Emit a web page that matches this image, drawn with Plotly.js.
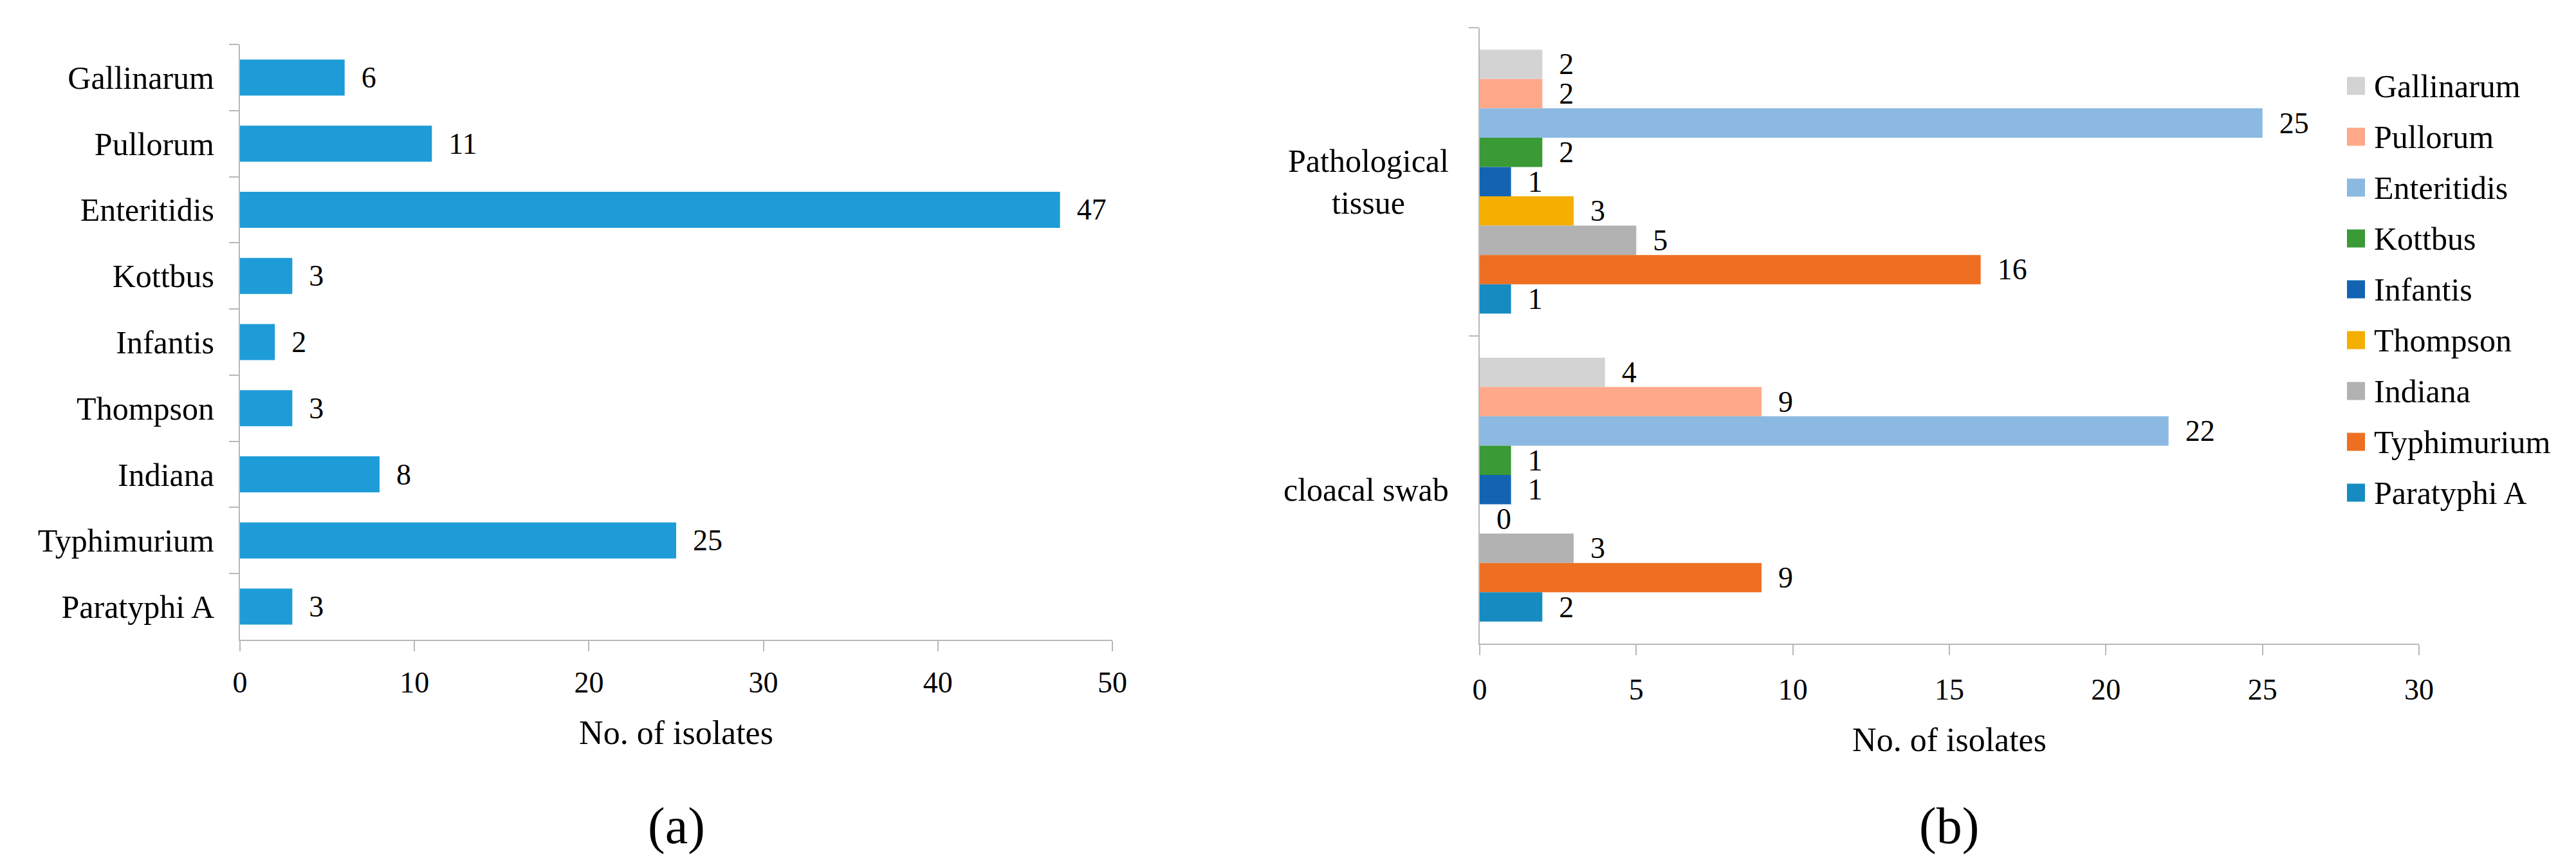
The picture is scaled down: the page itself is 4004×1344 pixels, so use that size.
<!DOCTYPE html>
<html>
<head>
<meta charset="utf-8">
<script src="https://cdn.plot.ly/plotly-3.0.1.min.js"></script>
<style>
html,body{margin:0;padding:0;background:#fff;}
#chart{width:4004px;height:1344px;}
</style>
</head>
<body>
<div id="chart"></div>
<script>
// ---- data ----
const serovars = ['Gallinarum','Pullorum','Enteritidis','Kottbus','Infantis','Thompson','Indiana','Typhimurium','Paratyphi A'];
const totalIsolates = [6, 11, 47, 3, 2, 3, 8, 25, 3];
const sources = ['Pathological tissue','cloacal swab'];
const sourceLabels = ['Pathological<br>tissue','cloacal swab'];
const gallinarum  = [2, 4];
const pullorum    = [2, 9];
const enteritidis = [25, 22];
const kottbus     = [2, 1];
const infantis    = [1, 1];
const thompson    = [3, 0];
const indiana     = [5, 3];
const typhimurium = [16, 9];
const paratyphiA  = [1, 2];
const xTicksA = [0, 10, 20, 30, 40, 50];
const xTicksB = [0, 5, 10, 15, 20, 25, 30];
const axisTitle = 'No. of isolates';
const panelLabels = ['(a)', '(b)'];

// ---- styles ----
const FONT = 'Liberation Serif, Times New Roman, DejaVu Serif, serif';
const barColorA = '#1e9cd8';
const serovarColors = ['#d3d3d3','#ffa98a','#8bb9e1','#3a9a36','#1264b2','#f4af00','#b2b2b2','#ee6f22','#168bc1'];
const bySource = [gallinarum, pullorum, enteritidis, kottbus, infantis, thompson, indiana, typhimurium, paratyphiA];
const NB = '\u00a0\u00a0';

const traces = [];
traces.push({
  type: 'bar', orientation: 'h',
  x: totalIsolates, y: serovars,
  xaxis: 'x', yaxis: 'y',
  width: 0.545,
  marker: {color: barColorA},
  text: totalIsolates.map(v => NB + v),
  textposition: 'outside', cliponaxis: false, constraintext: 'none',
  textfont: {family: FONT, size: 46, color: '#000'},
  showlegend: false, hoverinfo: 'skip'
});
serovars.forEach((name, i) => {
  traces.push({
    type: 'bar', orientation: 'h', name: name,
    x: bySource[i], y: sources,
    xaxis: 'x2', yaxis: 'y2',
    marker: {color: serovarColors[i]},
    text: bySource[i].map(v => NB + v),
    textposition: 'outside', cliponaxis: false, constraintext: 'none',
    textfont: {family: FONT, size: 46, color: '#000'},
    legendgroup: 'g' + i,
    hoverinfo: 'skip'
  });
});

const axisLine = {showline: true, linecolor: '#b8b8b8', linewidth: 2, ticks: 'outside', tickcolor: '#b8b8b8', tickwidth: 2, ticklen: 16, showgrid: false, zeroline: false};

const layout = {
  width: 4004, height: 1344,
  margin: {l: 0, r: 0, t: 0, b: 0},
  paper_bgcolor: '#fff', plot_bgcolor: '#fff',
  font: {family: FONT, color: '#000'},
  barmode: 'group',
  bargap: 0.143, bargroupgap: 0,
  showlegend: true,
  xaxis: Object.assign({}, axisLine, {
    domain: [373/4004, 1729/4004], anchor: 'y', range: [0, 50],
    tickvals: xTicksA, tickfont: {size: 46}, ticklabelstandoff: 9,
    title: {text: axisTitle, font: {size: 52}, standoff: 34}
  }),
  yaxis: Object.assign({}, axisLine, {
    domain: [1 - 994/1344, 1 - 69/1344], anchor: 'x',
    type: 'category', autorange: 'reversed', tickson: 'boundaries', ticklen: 15,
    tickfont: {size: 50}, ticklabelstandoff: 28
  }),
  xaxis2: Object.assign({}, axisLine, {
    domain: [2300/4004, 3760/4004], anchor: 'y2', range: [0, 30],
    tickvals: xTicksB, tickfont: {size: 46}, ticklabelstandoff: 14,
    title: {text: axisTitle, font: {size: 52}, standoff: 34}
  }),
  yaxis2: Object.assign({}, axisLine, {
    domain: [1 - 1000/1344, 1 - 43/1344], anchor: 'x2',
    type: 'category', autorange: 'reversed', tickson: 'boundaries', ticklen: 15,
    showticklabels: false
  }),
  legend: {
    x: 3634/4004, xanchor: 'left', y: 1 - 92/1344, yanchor: 'top',
    font: {family: FONT, size: 50, color: '#000'},
    itemwidth: 46, traceorder: 'grouped', tracegroupgap: 11,
    bgcolor: 'rgba(0,0,0,0)'
  },
  annotations: [
    {text: panelLabels[0], xref: 'paper', yref: 'paper', x: 1051/4004, y: 1 - 1283/1344, xanchor: 'center', yanchor: 'middle', showarrow: false, font: {size: 80}},
    {text: panelLabels[1], xref: 'paper', yref: 'paper', x: 3029/4004, y: 1 - 1283/1344, xanchor: 'center', yanchor: 'middle', showarrow: false, font: {size: 80}}
  ].concat(sources.map((s, i) => ({
    text: sourceLabels[i], xref: 'x2 domain', yref: 'y2', x: 0, y: s,
    xanchor: 'right', yanchor: 'middle', xshift: -46, align: 'center',
    showarrow: false, font: {size: 50}
  })))
};

Plotly.newPlot('chart', traces, layout, {staticPlot: true, displayModeBar: false}).then(gd => {
  // replace the small default legend swatches with 28px squares, 14px before the text
  const ns = 'http://www.w3.org/2000/svg';
  gd.querySelectorAll('.legend .traces').forEach(item => {
    const txt = item.querySelector('text.legendtext');
    if (!txt) return;
    const idx = serovars.indexOf(txt.textContent.trim());
    if (idx < 0) return;
    item.querySelectorAll('.legendpoints path').forEach(p => { p.style.display = 'none'; });
    const tr = txt.getBoundingClientRect();
    const ctm = item.getScreenCTM();
    const x = (tr.left - 14 - 28 - ctm.e) / ctm.a;
    const y = (tr.top + tr.height * 0.5 - 14 - ctm.f) / ctm.d;
    const rect = document.createElementNS(ns, 'rect');
    rect.setAttribute('x', x);
    rect.setAttribute('y', y);
    rect.setAttribute('width', 28);
    rect.setAttribute('height', 28);
    rect.setAttribute('fill', serovarColors[idx]);
    item.appendChild(rect);
  });
});
</script>
</body>
</html>
